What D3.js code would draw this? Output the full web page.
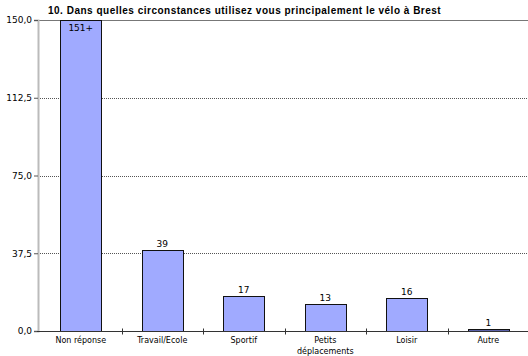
<!DOCTYPE html>
<html>
<head>
<meta charset="utf-8">
<script src="https://cdn.jsdelivr.net/npm/d3@7"></script>
<style>
  html, body { margin: 0; padding: 0; background: #fff; }
  svg { display: block; font-family: "DejaVu Sans", sans-serif; }
</style>
</head>
<body>
<svg id="chart" width="528" height="356"></svg>
<script>
// Survey answers: how respondents mainly use their bike in Brest
const categories = ["Non réponse", "Travail/Ecole", "Sportif", "Petits\ndéplacements", "Loisir", "Autre"];
const counts = [151, 39, 17, 13, 16, 1];
const yTicks = [0, 37.5, 75, 112.5, 150];
const titleText = "10. Dans quelles circonstances utilisez vous principalement le vélo à Brest";

const W = 528, H = 356;
const margin = { top: 20, right: -1, bottom: 25, left: 40 };
const svg = d3.select("#chart");

const x = d3.scaleBand()
  .domain(categories)
  .range([margin.left, W - margin.right])
  .paddingInner(0.5)
  .paddingOuter(0.25);

const y = d3.scaleLinear()
  .domain([0, 150])
  .range([H - margin.bottom, margin.top])
  .clamp(true);

const fmt = v => d3.format(".1f")(v).replace(".", ",");

// dotted horizontal gridlines
svg.append("g")
  .selectAll("line")
  .data(yTicks.filter(t => t > 0 && t < 150))
  .join("line")
  .attr("x1", margin.left - 2)
  .attr("x2", W)
  .attr("y1", d => Math.round(y(d)) + 0.5)
  .attr("y2", d => Math.round(y(d)) + 0.5)
  .attr("stroke", "#555")
  .attr("stroke-width", 1)
  .attr("stroke-dasharray", "1,1");

// top frame line
svg.append("line")
  .attr("x1", margin.left - 2).attr("x2", W)
  .attr("y1", Math.round(y(150)) + 0.5).attr("y2", Math.round(y(150)) + 0.5)
  .attr("stroke", "#777");

// y axis
const yAxis = svg.append("g")
  .attr("transform", `translate(${margin.left - 2},0)`)
  .call(d3.axisLeft(y).tickValues(yTicks).tickFormat(fmt).tickSize(4).tickPadding(2));
yAxis.attr("font-family", null);
yAxis.select(".domain").attr("stroke", "#bbb").attr("stroke-width", 2);
yAxis.selectAll(".tick line").attr("stroke", "#555");
yAxis.selectAll(".tick text").attr("font-size", 9).attr("fill", "#000");

// bars
svg.append("g")
  .selectAll("rect")
  .data(categories)
  .join("rect")
  .attr("x", d => Math.round(x(d)) + 0.5)
  .attr("y", (d, i) => Math.round(y(counts[i])) + 0.5)
  .attr("width", Math.round(x.bandwidth()))
  .attr("height", (d, i) => Math.max(1, Math.round(y(0)) - Math.round(y(counts[i]))))
  .attr("fill", (d, i) => counts[i] < 2 ? "#5a60a8" : "#a0aaff")
  .attr("stroke", "#111")
  .attr("stroke-width", 1);

// x axis
const xAxis = svg.append("g")
  .attr("transform", `translate(0,${Math.round(y(0)) + 0.5})`);
xAxis.append("line")
  .attr("x1", margin.left - 3).attr("x2", W)
  .attr("stroke", "#333");
xAxis.selectAll(".sep")
  .data(categories.slice(1))
  .join("line")
  .attr("class", "sep")
  .attr("x1", d => Math.round(x(d) - x.step() * x.paddingInner() / 2) + 0.5)
  .attr("x2", d => Math.round(x(d) - x.step() * x.paddingInner() / 2) + 0.5)
  .attr("y1", -3).attr("y2", 3)
  .attr("stroke", "#333");

xAxis.selectAll(".lbl")
  .data(categories)
  .join("text")
  .attr("class", "lbl")
  .attr("text-anchor", "middle")
  .attr("font-size", 8)
  .attr("x", d => x(d) + x.bandwidth() / 2)
  .attr("y", 11)
  .each(function(d) {
    const lines = d.split("\n");
    d3.select(this).selectAll("tspan")
      .data(lines)
      .join("tspan")
      .attr("x", x(d) + x.bandwidth() / 2)
      .attr("dy", (l, j) => j === 0 ? 0 : 11)
      .text(l => l);
  });

// value labels
svg.append("g")
  .selectAll("text")
  .data(categories)
  .join("text")
  .attr("text-anchor", "middle")
  .attr("font-size", 9)
  .attr("x", d => x(d) + x.bandwidth() / 2)
  .attr("y", (d, i) => counts[i] > 150 ? y(150) + 11 : y(counts[i]) - 3)
  .text((d, i) => counts[i] > 150 ? counts[i] + "+" : counts[i]);

// title
svg.append("text")
  .attr("x", 48)
  .attr("y", 14)
  .attr("font-size", 10)
  .attr("font-weight", "bold")
  .style("font-family", "'Liberation Sans', sans-serif")
  .attr("letter-spacing", 0.5)
  .text(titleText);
</script>
</body>
</html>
